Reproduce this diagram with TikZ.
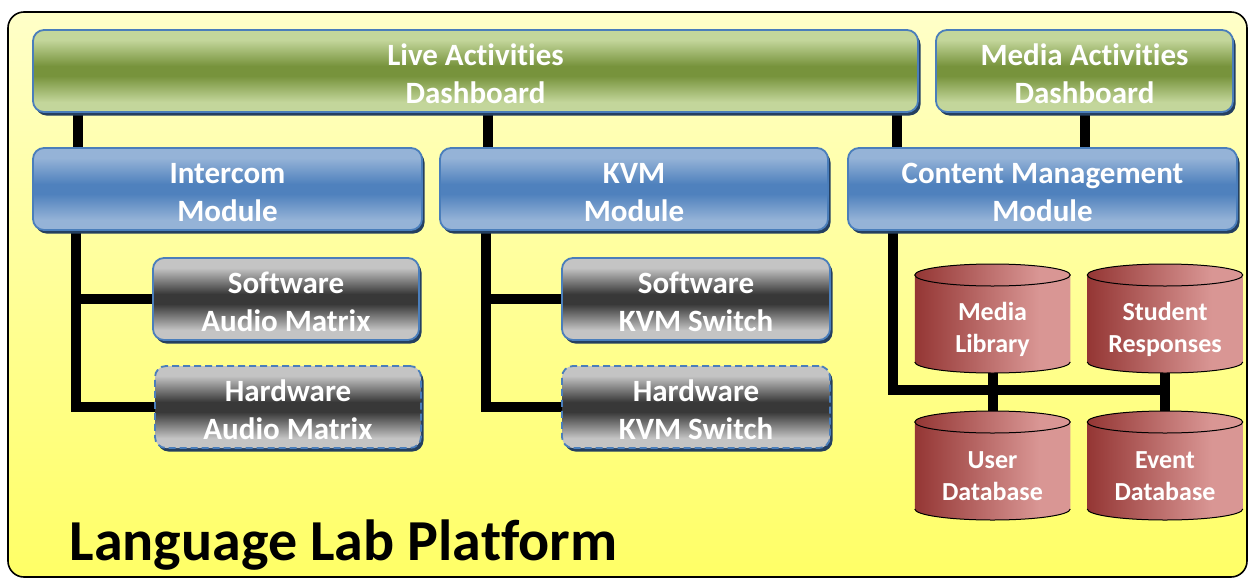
\documentclass[tikz,border=0pt]{standalone}
\usepackage{fontspec}
\setmainfont{Carlito}[Ligatures={NoCommon}]
\usetikzlibrary{shadows}
\definecolor{gL}{HTML}{C3D69B}
\definecolor{gD}{HTML}{77933C}
\definecolor{bL}{HTML}{95B3D7}
\definecolor{bD}{HTML}{4F81BD}
\definecolor{kL}{HTML}{C4C4C4}
\definecolor{kD}{HTML}{383838}
\definecolor{rD}{HTML}{943634}
\definecolor{rL}{HTML}{D99694}
\definecolor{yT}{HTML}{FFFFC8}
\definecolor{yB}{HTML}{FFFF66}
\definecolor{edge}{HTML}{4A7EBB}
\definecolor{shad}{HTML}{243F60}
\pgfdeclareverticalshading{greensh}{100bp}{color(0bp)=(gL);color(25bp)=(gL);color(31bp)=(gL);color(47bp)=(gD);color(53bp)=(gD);color(69bp)=(gL);color(75bp)=(gL);color(100bp)=(gL)}
\pgfdeclareverticalshading{bluesh}{100bp}{color(0bp)=(bL);color(25bp)=(bL);color(31bp)=(bL);color(47bp)=(bD);color(53bp)=(bD);color(69bp)=(bL);color(75bp)=(bL);color(100bp)=(bL)}
\pgfdeclareverticalshading{graysh}{100bp}{color(0bp)=(kL);color(25bp)=(kL);color(31bp)=(kL);color(47bp)=(kD);color(53bp)=(kD);color(69bp)=(kL);color(75bp)=(kL);color(100bp)=(kL)}
\pgfdeclarehorizontalshading{redsh}{100bp}{color(0bp)=(rD);color(25bp)=(rD);color(65bp)=(rL);color(75bp)=(rL);color(100bp)=(rL)}
\pgfdeclareverticalshading{yellowsh}{100bp}{color(0bp)=(yB);color(25bp)=(yB);color(75bp)=(yT);color(100bp)=(yT)}
\pgfdeclarelayer{back}
\pgfdeclarelayer{lines}
\pgfsetlayers{back,lines,main}
\newcommand\tup{\rule{0pt}{28pt}}
\tikzset{
 basebox/.style={rounded corners=11pt, draw=edge, line width=1.8pt, inner sep=0pt, outer sep=0pt, text=white, align=center, font=\bfseries\fontsize{31}{38}\selectfont, drop shadow={shadow xshift=2.5pt, shadow yshift=-3.5pt, fill=shad, opacity=1}},
 dashbox/.style={basebox, shade, shading=greensh},
 modbox/.style={basebox, shade, shading=bluesh},
 subbox/.style={basebox, shade, shading=graysh},
 hwbox/.style={subbox, dash pattern=on 7pt off 4pt},
 conn/.style={line width=10pt, draw=black},
 cylnode/.style={inner sep=0pt, outer sep=0pt, minimum width=155.5pt, minimum height=109pt},
 cyltext/.style={text=white, align=center, font=\bfseries\fontsize{26}{32}\selectfont},
}
\newcommand\cylshape[1]{%
 \shade[shading=redsh] ([yshift=-11pt]#1.north west) -- ([yshift=11pt]#1.south west) arc[start angle=180,end angle=360,x radius=77.75pt,y radius=11pt] -- ([yshift=-11pt]#1.north east) -- cycle;
 \draw[line width=1pt] ([yshift=11pt]#1.south west) arc[start angle=180,end angle=360,x radius=77.75pt,y radius=11pt];
 \shadedraw[shading=redsh, line width=1pt] ([yshift=-11pt]#1.north) ellipse[x radius=77.75pt, y radius=11pt];
}
\begin{document}
\begin{tikzpicture}[x=1pt,y=-1pt]
\useasboundingbox (0,0) rectangle (1248,579);
\begin{pgfonlayer}{back}
\shadedraw[shading=yellowsh, rounded corners=16pt, line width=1.6pt] (8,12) rectangle (1247,577);
\end{pgfonlayer}

\node[dashbox, minimum width=885pt, minimum height=82pt] (live) at (475.5,71) {\tup Live Activities\\Dashboard};
\node[dashbox, minimum width=297pt, minimum height=82pt] (media) at (1084.5,71) {\tup Media Activities\\Dashboard};

\node[modbox, minimum width=389pt, minimum height=82pt] (intercom) at (227.5,189) {\tup Intercom\\Module};
\node[modbox, minimum width=388pt, minimum height=82pt] (kvm) at (634,189) {\tup KVM\\Module};
\node[modbox, minimum width=389pt, minimum height=82pt] (cmm) at (1042.5,189) {\tup Content Management\\Module};

\node[subbox, minimum width=266pt, minimum height=82pt] (swaudio) at (286,299) {\tup Software\\Audio Matrix};
\node[hwbox, minimum width=266pt, minimum height=82pt] (hwaudio) at (288,407) {\tup Hardware\\Audio Matrix};
\node[subbox, minimum width=268pt, minimum height=82pt] (swkvm) at (696,299) {\tup Software\\KVM Switch};
\node[hwbox, minimum width=268pt, minimum height=82pt] (hwkvm) at (696,407) {\tup Hardware\\KVM Switch};

\node[cylnode] (ml) at (992.5,318.5) {};
\node[cylnode] (sr) at (1165,318.5) {};
\node[cylnode] (ud) at (992.5,465.5) {};
\node[cylnode] (ed) at (1165,465.5) {};
\cylshape{ml}
\cylshape{sr}
\cylshape{ud}
\cylshape{ed}
\node[cyltext] (mlt) at ([yshift=-11pt]ml.center) {Media\\Library};
\node[cyltext] (srt) at ([yshift=-11pt]sr.center) {Student\\Responses};
\node[cyltext] (udt) at ([yshift=-11pt]ud.center) {User\\Database};
\node[cyltext] (edt) at ([yshift=-11pt]ed.center) {Event\\Database};

\coordinate (cA) at (78,0);
\coordinate (cB) at (488,0);
\coordinate (cC) at (897,0);
\coordinate (cM) at (1085,0);
\coordinate (cD) at (76,0);
\coordinate (cE) at (486,0);
\coordinate (cF) at (893,0);
\coordinate (cG) at (0,390);

\begin{pgfonlayer}{lines}
\draw[conn] (live.south -| cA) -- (intercom.north -| cA);
\draw[conn] (live.south -| cB) -- (kvm.north -| cB);
\draw[conn] (live.south -| cC) -- (cmm.north -| cC);
\draw[conn] (media.south -| cM) -- (cmm.north -| cM);
\draw[conn] (intercom.south -| cD) |- (hwaudio.west);
\draw[conn] (cD |- swaudio.west) -- (swaudio.west);
\draw[conn] (kvm.south -| cE) |- (hwkvm.west);
\draw[conn] (cE |- swkvm.west) -- (swkvm.west);
\draw[conn] (cmm.south -| cF) |- (ed.north |- cG);
\draw[conn] (ml.south) -- (ud.north);
\draw[conn] (sr.south) -- (ed.north);
\end{pgfonlayer}

\node[anchor=base west, font=\bfseries\fontsize{58}{62}\selectfont] (title) at (66,560) {Language Lab Platform};
\end{tikzpicture}
\end{document}
